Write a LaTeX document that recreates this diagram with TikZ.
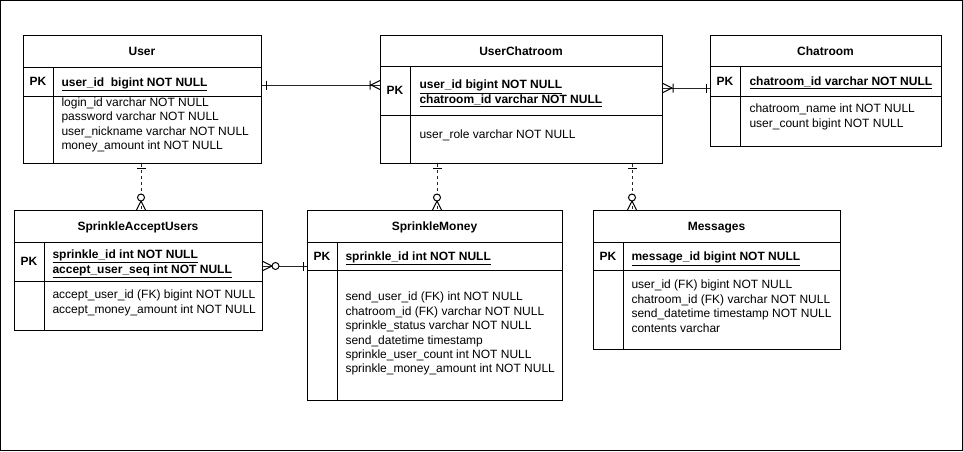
\documentclass[tikz,border=0pt]{standalone}
\usepackage{fontspec}
\setmainfont{Liberation Sans}
\usetikzlibrary{calc}
\newcommand{\fstrut}{\rule{0pt}{10pt}}
\tikzset{
  pics/erone/.style={code={\draw[solid,line width=1pt] (-4,-4.5) -- (-4,4.5);}},
  pics/eronemany/.style={code={\draw[solid,line width=1pt] (-9,0) -- (0,4.5) (-9,0) -- (0,-4.5) (-10,-4.5) -- (-10,4.5);}},
  pics/erzeromany/.style={code={\draw[solid,line width=1pt] (-9,0) -- (0,4.5) (-9,0) -- (0,-4.5);
      \draw[solid,line width=1pt,fill=white] (-12.5,0) circle (3.5);}},
}
\begin{document}
\begin{tikzpicture}[x=1pt,y=1pt,line width=1pt,
  font=\fontsize{12}{14.4}\selectfont,
  tbl/.style={draw,rectangle,inner sep=0pt,anchor=north west,line width=1pt},
  ttl/.style={font=\fontsize{12}{14.4}\selectfont\bfseries,inner sep=0pt,anchor=base},
  pklbl/.style={font=\fontsize{12}{14.4}\selectfont\bfseries,inner sep=0pt,anchor=base},
  pkattr/.style={font=\fontsize{12}{14.4}\selectfont\bfseries,inner sep=0pt,align=left,anchor=north west},
  attr/.style={inner sep=0pt,align=left,anchor=north west},
  conn/.style={line width=1pt,draw=black!85},
  dconn/.style={conn,dash pattern=on 3pt off 3pt}]
\useasboundingbox (0,0) rectangle (963,-451);
\draw[line width=1pt] (0.5,-0.5) rectangle (962.5,-450.5);

% ---------- User
\node[tbl,minimum width=238pt,minimum height=128pt] (user) at (23,-35) {};
\draw (23,-67) -- (261,-67) (23,-96) -- (261,-96) (53,-67) -- (53,-163);
\node[ttl] (userT) at (142,-55.3) {User};
\node[pklbl] (userP) at (38,-85.8) {PK};
\node[pkattr] (userK) at (61,-75.8) {\fstrut\underline{user\_id\ \ bigint NOT NULL}};
\node[attr] (userA) at (61,-95.8) {\fstrut login\_id varchar NOT NULL\\password varchar NOT NULL\\user\_nickname varchar NOT NULL\\money\_amount int NOT NULL};

% ---------- UserChatroom
\node[tbl,minimum width=282pt,minimum height=128pt] (uc) at (380,-35) {};
\draw (380,-66) -- (662,-66) (380,-115) -- (662,-115) (410,-66) -- (410,-163);
\node[ttl] (ucT) at (521,-55.3) {UserChatroom};
\node[pklbl] (ucP) at (395,-94.8) {PK};
\node[pkattr] (ucK) at (419,-78.3) {\fstrut\underline{user\_id bigint NOT NULL}\\\underline{chatroom\_id varchar NOT NULL}};
\node[attr] (ucA) at (419,-128.3) {\fstrut user\_role varchar NOT NULL};

% ---------- Chatroom
\node[tbl,minimum width=231pt,minimum height=111pt] (chat) at (710,-35) {};
\draw (710,-66) -- (941,-66) (710,-96) -- (941,-96) (740,-66) -- (740,-146);
\node[ttl] (chatT) at (825.5,-55.3) {Chatroom};
\node[pklbl] (chatP) at (725,-85.3) {PK};
\node[pkattr] (chatK) at (749,-75.3) {\fstrut\underline{chatroom\_id varchar NOT NULL}};
\node[attr] (chatA) at (749,-102.3) {\fstrut chatroom\_name int NOT NULL\\user\_count bigint NOT NULL};

% ---------- SprinkleAcceptUsers
\node[tbl,minimum width=248pt,minimum height=120pt] (sau) at (14,-210) {};
\draw (14,-242) -- (262,-242) (14,-281) -- (262,-281) (44,-242) -- (44,-330);
\node[ttl] (sauT) at (138,-230.3) {SprinkleAcceptUsers};
\node[pklbl] (sauP) at (29,-265.8) {PK};
\node[pkattr] (sauK) at (52,-248.3) {\fstrut\underline{sprinkle\_id int NOT NULL}\\\underline{accept\_user\_seq int NOT NULL}};
\node[attr] (sauA) at (52,-288.3) {\fstrut accept\_user\_id (FK) bigint NOT NULL\\accept\_money\_amount int NOT NULL};

% ---------- SprinkleMoney
\node[tbl,minimum width=255pt,minimum height=190pt] (sm) at (307,-210) {};
\draw (307,-242) -- (562,-242) (307,-270) -- (562,-270) (337,-242) -- (337,-400);
\node[ttl] (smT) at (434.5,-230.3) {SprinkleMoney};
\node[pklbl] (smP) at (322,-260.3) {PK};
\node[pkattr] (smK) at (345,-250.3) {\fstrut\underline{sprinkle\_id int NOT NULL}};
\node[attr] (smA) at (345,-290.3) {\fstrut send\_user\_id (FK) int NOT NULL\\chatroom\_id (FK) varchar NOT NULL\\sprinkle\_status varchar NOT NULL\\send\_datetime timestamp\\sprinkle\_user\_count int NOT NULL\\sprinkle\_money\_amount int NOT NULL};

% ---------- Messages
\node[tbl,minimum width=247pt,minimum height=139pt] (msg) at (593,-210) {};
\draw (593,-242) -- (840,-242) (593,-270) -- (840,-270) (623,-242) -- (623,-349);
\node[ttl] (msgT) at (716.5,-230.3) {Messages};
\node[pklbl] (msgP) at (608,-260.3) {PK};
\node[pkattr] (msgK) at (631,-250.3) {\fstrut\underline{message\_id bigint NOT NULL}};
\node[attr] (msgA) at (631,-278.3) {\fstrut user\_id (FK) bigint NOT NULL\\chatroom\_id (FK) varchar NOT NULL\\send\_datetime timestamp NOT NULL\\contents varchar};

% ---------- connectors
\draw[conn] (user.east |- 0,-85) -- (uc.west |- 0,-85);
\pic[rotate=180] at (user.east |- 0,-85) {erone};
\pic at (uc.west |- 0,-85) {eronemany};

\draw[conn] (uc.east |- 0,-88) -- (chat.west |- 0,-88);
\pic[rotate=180] at (uc.east |- 0,-88) {eronemany};
\pic at (chat.west |- 0,-88) {erone};

\draw[dconn] (user.south -| 141,0) -- (sau.north -| 141,0);
\pic[rotate=90] at (user.south -| 141,0) {erone};
\pic[rotate=-90] at (sau.north -| 141,0) {erzeromany};

\draw[dconn] (uc.south -| 437,0) -- (sm.north -| 437,0);
\pic[rotate=90] at (uc.south -| 437,0) {erone};
\pic[rotate=-90] at (sm.north -| 437,0) {erzeromany};

\draw[dconn] (uc.south -| 632,0) -- (msg.north -| 632,0);
\pic[rotate=90] at (uc.south -| 632,0) {erone};
\pic[rotate=-90] at (msg.north -| 632,0) {erzeromany};

\draw[conn] (sau.east |- 0,-266) -- (sm.west |- 0,-266);
\pic[rotate=180] at (sau.east |- 0,-266) {erzeromany};
\pic at (sm.west |- 0,-266) {erone};
\end{tikzpicture}
\end{document}
